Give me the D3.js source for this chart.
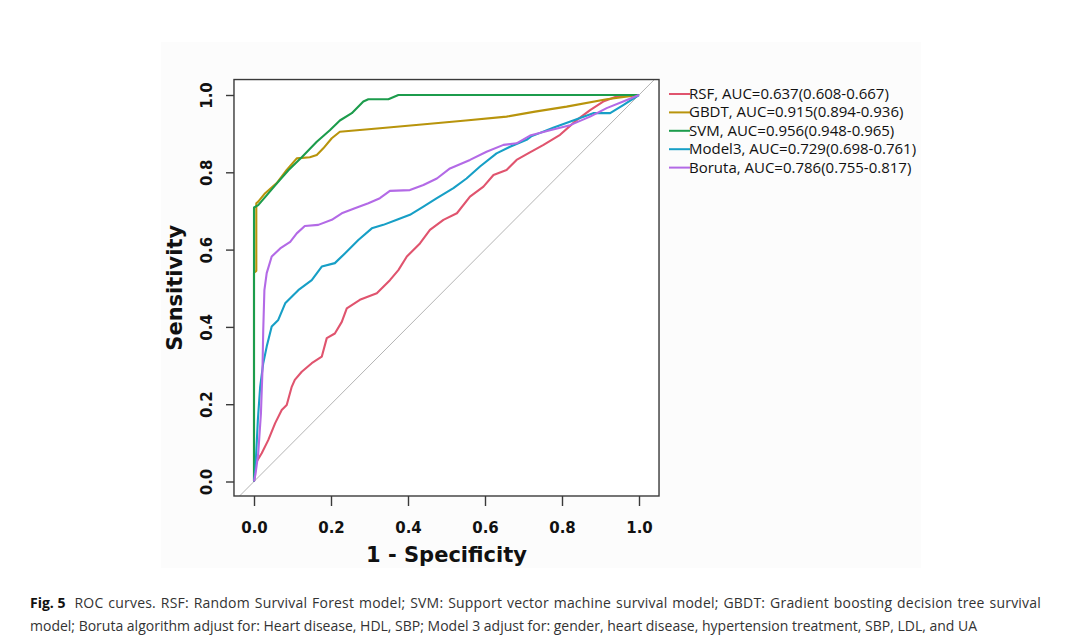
<!DOCTYPE html>
<html>
<head>
<meta charset="utf-8">
<script src="https://cdn.jsdelivr.net/npm/d3@7/dist/d3.min.js"></script>
<style>
  body { margin: 0; background: #fff; }
</style>
</head>
<body>
<svg id="chart" width="1080" height="642"></svg>
<script>
// series names, legend labels and colours
const modelNames = ["RSF", "GBDT", "SVM", "Model3", "Boruta"];
const legendLabels = [
    "RSF, AUC=0.637(0.608-0.667)",
    "GBDT, AUC=0.915(0.894-0.936)",
    "SVM, AUC=0.956(0.948-0.965)",
    "Model3, AUC=0.729(0.698-0.761)",
    "Boruta, AUC=0.786(0.755-0.817)"
];
const modelColors = ["#e0546e", "#b8940c", "#1c9c4c", "#179fc6", "#b36ae6"];

const xTicks = [0, 0.2, 0.4, 0.6, 0.8, 1.0];
const yTicks = [0, 0.2, 0.4, 0.6, 0.8, 1.0];

// [1 - specificity, sensitivity]
const rsfPoints = [[0,0],[0.004,0.047],[0.02,0.073],[0.037,0.107],[0.055,0.151],[0.072,0.185],[0.085,0.198],
    [0.098,0.245],[0.106,0.263],[0.124,0.284],[0.15,0.306],[0.176,0.323],[0.189,0.371],[0.21,0.383],[0.228,0.413],
    [0.241,0.448],[0.275,0.47],[0.319,0.487],[0.336,0.504],[0.353,0.521],[0.375,0.547],[0.397,0.582],[0.431,0.616],
    [0.457,0.651],[0.492,0.677],[0.527,0.694],[0.561,0.737],[0.596,0.763],[0.622,0.793],[0.656,0.806],[0.682,0.832],
    [0.712,0.849],[0.752,0.871],[0.795,0.897],[0.838,0.935],[0.873,0.961],[0.907,0.983],[0.942,0.996],[1,1]];

const gbdtPoints = [[0,0],[0,0.54],[0.006,0.545],[0.006,0.72],[0.011,0.724],[0.029,0.746],[0.059,0.772],
    [0.085,0.806],[0.111,0.836],[0.145,0.839],[0.163,0.845],[0.18,0.862],[0.202,0.888],[0.223,0.905],
    [0.327,0.914],[0.45,0.925],[0.55,0.934],[0.656,0.944],[0.73,0.957],[0.812,0.97],[0.916,0.989],[1,1]];

const svmPoints = [[0,0],[0,0.709],[0.011,0.715],[0.03,0.737],[0.06,0.772],[0.09,0.806],[0.124,0.839],
    [0.163,0.879],[0.197,0.909],[0.223,0.934],[0.254,0.953],[0.284,0.983],[0.297,0.989],[0.349,0.989],
    [0.375,1.0],[1,1]];

const model3Points = [[0,0],[0.004,0.038],[0.01,0.159],[0.016,0.245],[0.024,0.306],[0.033,0.349],[0.046,0.401],
    [0.063,0.418],[0.081,0.461],[0.115,0.495],[0.15,0.521],[0.176,0.556],[0.21,0.565],[0.236,0.59],[0.271,0.625],
    [0.306,0.655],[0.336,0.664],[0.371,0.677],[0.405,0.69],[0.44,0.711],[0.475,0.733],[0.518,0.759],[0.552,0.784],
    [0.587,0.815],[0.63,0.849],[0.665,0.866],[0.708,0.884],[0.72,0.893],[0.777,0.915],[0.838,0.937],[0.881,0.953],
    [0.925,0.953],[0.959,0.974],[1,1]];

const borutaPoints = [[0,0],[0.004,0.02],[0.011,0.073],[0.018,0.176],[0.022,0.288],[0.024,0.392],[0.027,0.495],
    [0.033,0.539],[0.046,0.582],[0.068,0.603],[0.094,0.62],[0.111,0.642],[0.132,0.661],[0.167,0.664],[0.202,0.677],
    [0.228,0.694],[0.262,0.707],[0.297,0.72],[0.327,0.733],[0.353,0.752],[0.405,0.754],[0.44,0.767],[0.475,0.784],
    [0.509,0.81],[0.561,0.832],[0.604,0.853],[0.648,0.871],[0.682,0.875],[0.717,0.895],[0.769,0.909],[0.821,0.922],
    [0.873,0.944],[0.916,0.966],[0.959,0.983],[1,1]];

const seriesPoints = [rsfPoints, gbdtPoints, svmPoints, model3Points, borutaPoints];

const captionLine1Bold = "Fig. 5";
const captionLine1 = "ROC curves. RSF: Random Survival Forest model; SVM: Support vector machine survival model; GBDT: Gradient boosting decision tree survival";
const captionLine2 = "model; Boruta algorithm adjust for: Heart disease, HDL, SBP; Model 3 adjust for: gender, heart disease, hypertension treatment, SBP, LDL, and UA";

const svg = d3.select("#chart");

// faint grey backdrop of the scanned figure
svg.append("rect")
    .attr("x", 161).attr("y", 42)
    .attr("width", 760).attr("height", 526)
    .attr("fill", "#fcfcfc");

let x = d3.scaleLinear().domain([0, 1]).range([254, 639]);
let y = d3.scaleLinear().domain([0, 1]).range([481.5, 95]);

// plot region (R extends the data range a little)
const xr = [-0.052, 1.052], yr = [-0.0375, 1.04];
const box = {
    x: x(xr[0]), y: y(yr[1]),
    w: x(xr[1]) - x(xr[0]), h: y(yr[0]) - y(yr[1])
};

svg.append("clipPath").attr("id", "plotclip")
    .append("rect")
    .attr("x", box.x).attr("y", box.y)
    .attr("width", box.w).attr("height", box.h);

svg.append("rect")
    .attr("x", box.x).attr("y", box.y)
    .attr("width", box.w).attr("height", box.h)
    .attr("fill", "#fff");

// reference diagonal
svg.append("line")
    .attr("clip-path", "url(#plotclip)")
    .attr("x1", x(-0.2)).attr("y1", y(-0.2))
    .attr("x2", x(1.2)).attr("y2", y(1.2))
    .attr("stroke", "#b4b4b4")
    .attr("stroke-width", 1);

let line = d3.line()
    .x(d => x(d[0]))
    .y(d => y(d[1]));

svg.append("g").attr("clip-path", "url(#plotclip)")
    .selectAll("path")
    .data(seriesPoints)
    .enter().append("path")
    .attr("d", line)
    .attr("fill", "none")
    .attr("stroke", (d, i) => modelColors[i])
    .attr("stroke-width", 2.1)
    .attr("stroke-linejoin", "round");

// box
svg.append("rect")
    .attr("x", box.x).attr("y", box.y)
    .attr("width", box.w).attr("height", box.h)
    .attr("fill", "none")
    .attr("stroke", "#3a3a3a")
    .attr("stroke-width", 1.4);

// x axis
let xAxis = svg.append("g")
    .attr("transform", "translate(0," + (box.y + box.h) + ")")
    .call(d3.axisBottom(x).tickValues(xTicks).tickFormat(d3.format(".1f")).tickSize(10).tickPadding(16));
xAxis.select(".domain").remove();

// y axis, labels turned like R's las=0
let yAxis = svg.append("g")
    .attr("transform", "translate(" + box.x + ",0)")
    .call(d3.axisLeft(y).tickValues(yTicks).tickFormat(d3.format(".1f")).tickSize(8));
yAxis.select(".domain").remove();
yAxis.selectAll("text")
    .attr("transform", "rotate(-90)")
    .attr("x", 0)
    .attr("y", -(box.x - 211.5))
    .attr("dy", 0)
    .style("text-anchor", "middle");

svg.selectAll(".tick line")
    .attr("stroke", "#3a3a3a")
    .attr("stroke-width", 1.4);
svg.selectAll(".tick text")
    .attr("fill", "#111")
    .style("font", "bold 15px 'DejaVu Sans'");

// axis titles
svg.append("text")
    .attr("x", box.x + box.w / 2)
    .attr("y", 561.7)
    .attr("text-anchor", "middle")
    .style("font", "bold 21px 'DejaVu Sans'")
    .attr("fill", "#111")
    .text("1 - Specificity");

svg.append("text")
    .attr("transform", "translate(181.5," + (box.y + box.h / 2) + ") rotate(-90)")
    .attr("text-anchor", "middle")
    .style("font", "bold 21px 'DejaVu Sans'")
    .attr("fill", "#111")
    .text("Sensitivity");

// legend
let legend = svg.append("g").attr("class", "legendbox")
    .selectAll(".legend")
    .data(legendLabels)
    .enter().append("g")
    .attr("class", "legend")
    .attr("transform", (d, i) => "translate(669," + (94 + i * 18.4) + ")");

legend.append("line")
    .attr("x1", 0).attr("x2", 21)
    .attr("stroke", (d, i) => modelColors[i])
    .attr("stroke-width", 2);

legend.append("text")
    .attr("x", 20)
    .attr("y", 5)
    .style("font", "15px 'Open Sans'")
    .attr("fill", "#111")
    .text(d => d);

// caption, first line justified to the column width
let cap1 = svg.append("text")
    .attr("x", 30).attr("y", 608)
    .style("font", "14px 'Open Sans'")
    .attr("fill", "#333");
cap1.append("tspan").style("font-weight", "bold").attr("fill", "#111").text(captionLine1Bold);
let cap1Rest = cap1.append("tspan").attr("dx", 9).text(captionLine1);

// spread the slack over letters and spaces so it does not look gappy
let natural = cap1.node().getComputedTextLength();
let slack = 1032 - 30 - natural;
if (slack > 0) {
    let nChars = captionLine1.length;
    let nSpaces = captionLine1.split(" ").length - 1;
    cap1Rest.style("letter-spacing", (slack * 0.6 / nChars) + "px")
        .style("word-spacing", (slack * 0.4 / nSpaces) + "px");
}

svg.append("text")
    .attr("x", 30).attr("y", 631)
    .style("font", "14px 'Open Sans'")
    .attr("fill", "#333")
    .text(captionLine2);
</script>
</body>
</html>
